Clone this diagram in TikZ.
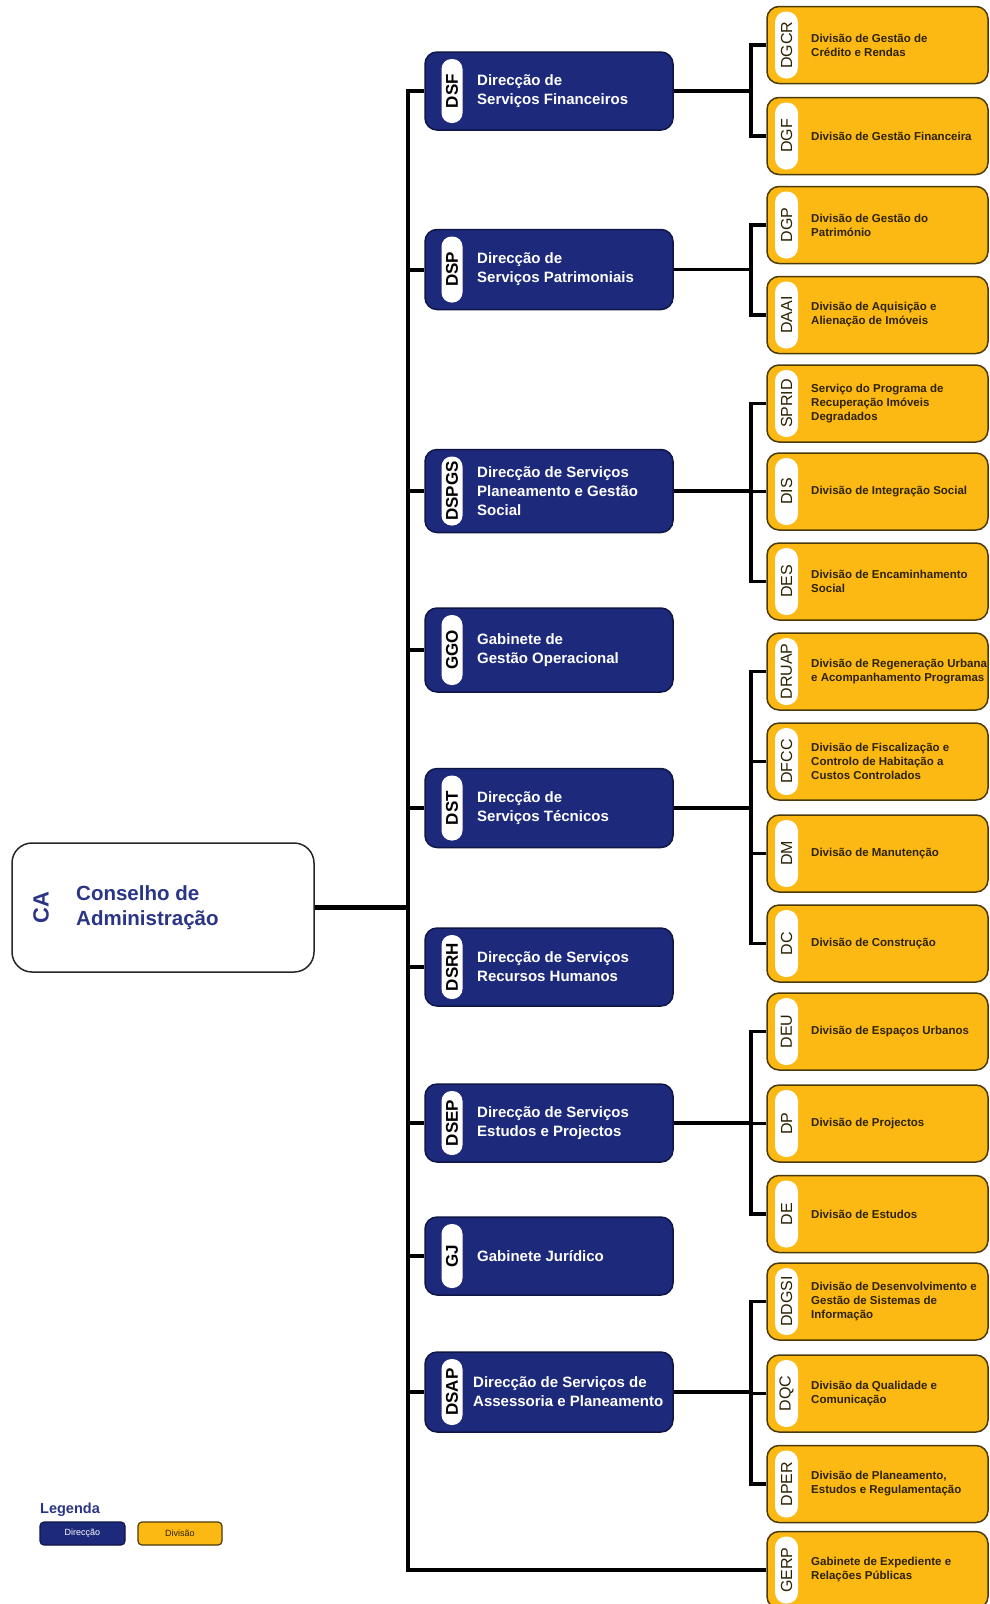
\documentclass[tikz,border=0pt]{standalone}
\usepackage{fontspec}
\setmainfont{Liberation Sans}
\definecolor{navy}{HTML}{1D2A7C}
\definecolor{navyline}{HTML}{0F1645}
\definecolor{gold}{HTML}{FCB914}
\definecolor{goldline}{HTML}{4A3A0A}
\definecolor{brownink}{HTML}{2E2300}
\definecolor{cablue}{HTML}{2B3585}
\tikzset{
  dirbox/.style={draw=navyline, line width=1.5pt, fill=navy, rounded corners=12pt, minimum width=248pt, inner sep=0pt},
  dirpill/.style={rotate=90, fill=white, rounded corners=10pt, minimum height=21pt, inner sep=0pt, font=\fontsize{17}{17}\selectfont\bfseries, text=black},
  dirtext/.style={anchor=west, text=white, align=left, inner sep=0pt, font=\fontsize{15}{19}\selectfont\bfseries},
  divbox/.style={draw=goldline, line width=1.5pt, fill=gold, rounded corners=12pt, minimum width=221pt, minimum height=77pt, inner sep=0pt},
  divpill/.style={rotate=90, fill=white, rounded corners=11pt, minimum width=67pt, minimum height=23pt, inner sep=0pt, font=\fontsize{16}{16}\selectfont, text=brownink},
  divtext/.style={anchor=west, text=brownink, align=left, inner sep=0pt, font=\fontsize{11.5}{14}\selectfont\bfseries},
  mainline/.style={line width=4pt, line join=miter, black},
  subline/.style={line width=3.2pt, line join=miter, black},
}
\newcommand\dirnode[5]{%
  \node[dirbox, minimum height=#3] (#1) at (549,#2) {};
  \node[dirpill, minimum width=#3-14] (#1-ab) at (452,#2) {#4};
  \node[dirtext] (#1-tx) at (477,#2) {#5};
}
\newcommand\divnode[4]{%
  \node[divbox] (#1) at (877.5,#2) {};
  \node[divpill] (#1-ab) at (786.5,#2) {#3};
  \node[divtext] (#1-tx) at (811,#2) {#4};
}
\begin{document}
\begin{tikzpicture}[x=1pt,y=-1pt]
\useasboundingbox[fill=white] (0,0) rectangle (989,1604);
\coordinate (tx) at (408,0);
\coordinate (bx) at (751,0);

% Conselho
\node[draw=black!85, line width=1.5pt, fill=white, rounded corners=20pt, minimum width=302pt, minimum height=129pt] (CA) at (163,907.5) {};
\node[rotate=90, text=cablue, font=\fontsize{22}{22}\selectfont\bfseries, inner sep=0pt] (CA-ab) at (41,907.5) {CA};
\node[anchor=west, text=cablue, align=left, inner sep=0pt, font=\fontsize{20.5}{25}\selectfont\bfseries] (CA-tx) at (76,907.5) {Conselho de\\Administração};

% Direcções
\dirnode{DSF}{91}{78}{DSF}{Direcção de\\Serviços Financeiros}
\dirnode{DSP}{269.5}{80}{DSP}{Direcção de\\Serviços Patrimoniais}
\dirnode{DSPGS}{491}{83}{DSPGS}{Direcção de Serviços\\Planeamento e Gestão\\Social}
\dirnode{GGO}{650}{84}{GGO}{Gabinete de\\Gestão Operacional}
\dirnode{DST}{808}{79}{DST}{Direcção de\\Serviços Técnicos}
\dirnode{DSRH}{967}{78}{DSRH}{Direcção de Serviços\\Recursos Humanos}
\dirnode{DSEP}{1123}{78}{DSEP}{Direcção de Serviços\\Estudos e Projectos}
\dirnode{GJ}{1256}{78}{GJ}{Gabinete Jurídico}
\node[dirbox, minimum height=80] (DSAP) at (549,1392) {};
\node[dirpill, minimum width=66] (DSAP-ab) at (452,1392) {DSAP};
\node[dirtext] (DSAP-tx) at (473,1392) {Direcção de Serviços de\\Assessoria e Planeamento};

% Divisões
\divnode{DGCR}{45}{DGCR}{Divisão de Gestão de\\Crédito e Rendas}
\divnode{DGF}{136}{DGF}{Divisão de Gestão Financeira}
\divnode{DGP}{225}{DGP}{Divisão de Gestão do\\Património}
\divnode{DAAI}{315}{DAAI}{Divisão de Aquisição e\\Alienação de Imóveis}
\divnode{SPRID}{403.5}{SPRID}{Serviço do Programa de\\Recuperação Imóveis\\Degradados}
\divnode{DIS}{491.5}{DIS}{Divisão de Integração Social}
\divnode{DES}{581.5}{DES}{Divisão de Encaminhamento\\Social}
\divnode{DRUAP}{671.5}{DRUAP}{Divisão de Regeneração Urbana\\e Acompanhamento Programas}
\divnode{DFCC}{761.5}{DFCC}{Divisão de Fiscalização e\\Controlo de Habitação a\\Custos Controlados}
\divnode{DM}{853.5}{DM}{Divisão de Manutenção}
\divnode{DC}{943.5}{DC}{Divisão de Construção}
\divnode{DEU}{1031.5}{DEU}{Divisão de Espaços Urbanos}
\divnode{DP}{1123.5}{DP}{Divisão de Projectos}
\divnode{DE}{1214}{DE}{Divisão de Estudos}
\divnode{DDGSI}{1301.5}{DDGSI}{Divisão de Desenvolvimento e\\Gestão de Sistemas de\\Informação}
\divnode{DQC}{1393.5}{DQC}{Divisão da Qualidade e\\Comunicação}
\divnode{DPER}{1484}{DPER}{Divisão de Planeamento,\\Estudos e Regulamentação}
\divnode{GERP}{1570}{GERP}{Gabinete de Expediente e\\Relações Públicas}

% Trunk
\draw[line width=5pt] (CA.east) -- (CA.east -| tx);
\draw[mainline] (DSF.west) -- (DSF.west -| tx) -- (GERP.west -| tx) -- (GERP.west);
\foreach \n in {DSP,DSPGS,GGO,DST,DSRH,DSEP,GJ,DSAP}
  \draw[mainline] (\n.west) -- (\n.west -| tx);

% Branches
\foreach \d/\f/\l in {DSF/DGCR/DGF, DSP/DGP/DAAI, DSPGS/SPRID/DES, DST/DRUAP/DC, DSEP/DEU/DE, DSAP/DDGSI/DPER}{
  \draw[subline] (\d.east) -- (\d.east -| bx);
  \draw[subline] (\f.west) -- (\f.west -| bx) -- (\l.west -| bx) -- (\l.west);
}
\foreach \n in {DIS,DFCC,DM,DP,DQC}
  \draw[subline] (\n.west) -- (\n.west -| bx);

% Legend
\node[anchor=west, text=cablue, inner sep=0pt, font=\fontsize{14.5}{14.5}\selectfont\bfseries] (leg) at (40,1510) {Legenda};
\node[draw=navyline, line width=1.2pt, fill=navy, rounded corners=4pt, minimum width=85pt, minimum height=23pt, inner sep=0pt, text=white, font=\fontsize{9}{9}\selectfont] (leg-dir) at (82.5,1533.5) {Direcção};
\node[draw=goldline, line width=1.2pt, fill=gold, rounded corners=4pt, minimum width=84pt, minimum height=23pt, inner sep=0pt, text=brownink, font=\fontsize{9}{9}\selectfont] (leg-div) at (180,1533.5) {Divisão};
\end{tikzpicture}
\end{document}
